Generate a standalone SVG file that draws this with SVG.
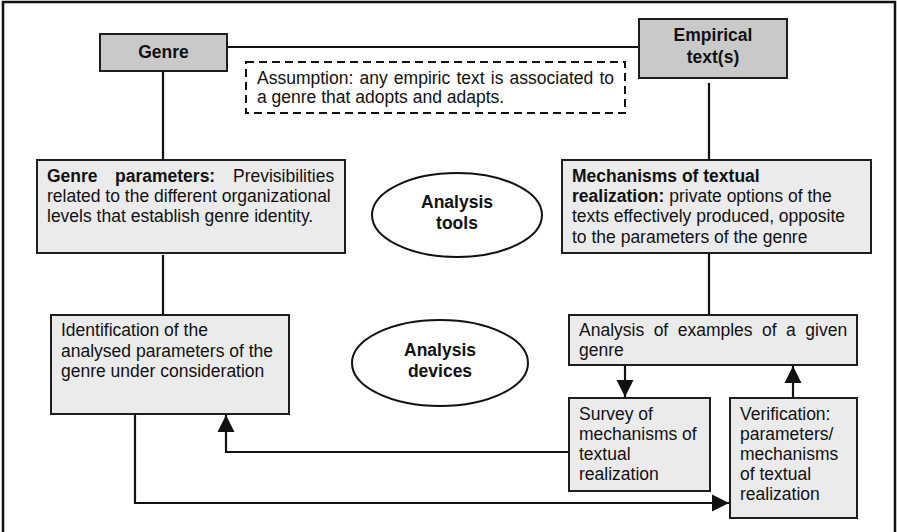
<svg xmlns="http://www.w3.org/2000/svg" width="897" height="532" viewBox="0 0 897 532">
<defs>
<style>
text{font-family:"Liberation Sans",Arial,sans-serif;font-size:17.5px;fill:#111}
.b{font-weight:bold}
.c{text-anchor:middle}
.dark{fill:#c9c9c9;stroke:#1e1e1e;stroke-width:2}
.light{fill:#ebebeb;stroke:#1e1e1e;stroke-width:2}
.ell{fill:#fff;stroke:#111;stroke-width:2}
.dash{fill:#fff;stroke:#111;stroke-width:2;stroke-dasharray:8 5}
.con{fill:none;stroke:#111;stroke-width:2.2}
</style>
<marker id="ah" markerUnits="userSpaceOnUse" markerWidth="18" markerHeight="18" refX="17" refY="9" orient="auto">
<path d="M0,0.5 L17,9 L0,17.5 Z" fill="#111"/>
</marker>
</defs>
<rect width="897" height="532" fill="#fff"/>
<path d="M3,532 V2 H895 V532" fill="none" stroke="#111" stroke-width="2.5"/>

<g id="connectors">
<path class="con" d="M227,47 H639"/>
<path class="con" d="M163,71 V160"/>
<path class="con" d="M163,255 V315"/>
<path class="con" d="M709,83 V160"/>
<path class="con" d="M709,253 V315"/>
<path class="con" d="M625,365 V397" marker-end="url(#ah)"/>
<path class="con" d="M793,398 V366" marker-end="url(#ah)"/>
<path class="con" d="M569,452 H226 V415" marker-end="url(#ah)"/>
<path class="con" d="M135,414 V503 H729" marker-end="url(#ah)"/>
</g>

<g id="genre">
<rect class="dark" x="100" y="34" width="127" height="37"/>
<text class="b c" x="163.5" y="58">Genre</text>
</g>

<g id="empirical">
<rect class="dark" x="639" y="19" width="148" height="59"/>
<text class="b c" x="713" y="41">Empirical</text>
<text class="b c" x="713" y="63">text(s)</text>
</g>

<g id="assumption">
<rect class="dash" x="246" y="62" width="379" height="51"/>
<text x="257" y="84" word-spacing="1.3">Assumption: any empiric text is associated to</text>
<text x="257" y="103">a genre that adopts and adapts.</text>
</g>

<g id="genre-parameters">
<rect class="light" x="37" y="160" width="308" height="93"/>
<text y="182"><tspan class="b" x="47">Genre</tspan><tspan class="b" x="115">parameters:</tspan><tspan x="233">Previsibilities</tspan></text>
<text x="47" y="202">related to the different organizational</text>
<text x="47" y="222">levels that establish genre identity.</text>
</g>

<g id="analysis-tools">
<ellipse class="ell" cx="457" cy="215" rx="85" ry="42"/>
<text class="b c" x="457" y="208">Analysis</text>
<text class="b c" x="457" y="229">tools</text>
</g>

<g id="mechanisms">
<rect class="light" x="562" y="160" width="309" height="93"/>
<text class="b" x="572" y="182">Mechanisms of textual</text>
<text x="572" y="202"><tspan class="b">realization:</tspan> private options of the</text>
<text x="572" y="222">texts effectively produced, opposite</text>
<text x="572" y="243">to the parameters of the genre</text>
</g>

<g id="identification">
<rect class="light" x="51" y="315" width="238" height="99"/>
<text x="61" y="336">Identification of the</text>
<text x="61" y="357">analysed parameters of the</text>
<text x="61" y="377">genre under consideration</text>
</g>

<g id="analysis-devices">
<ellipse class="ell" cx="440" cy="363" rx="88" ry="43"/>
<text class="b c" x="440" y="356">Analysis</text>
<text class="b c" x="440" y="377">devices</text>
</g>

<g id="analysis-examples">
<rect class="light" x="569" y="315" width="288" height="50"/>
<text x="579" y="336" word-spacing="4.6">Analysis of examples of a given</text>
<text x="579" y="356">genre</text>
</g>

<g id="survey">
<rect class="light" x="569" y="398" width="141" height="93"/>
<text x="579" y="420">Survey of</text>
<text x="579" y="440">mechanisms of</text>
<text x="579" y="460">textual</text>
<text x="579" y="480">realization</text>
</g>

<g id="verification">
<rect class="light" x="730" y="398" width="127" height="120"/>
<text x="740" y="420">Verification:</text>
<text x="740" y="440">parameters/</text>
<text x="740" y="460">mechanisms</text>
<text x="740" y="480">of textual</text>
<text x="740" y="500">realization</text>
</g>
</svg>
